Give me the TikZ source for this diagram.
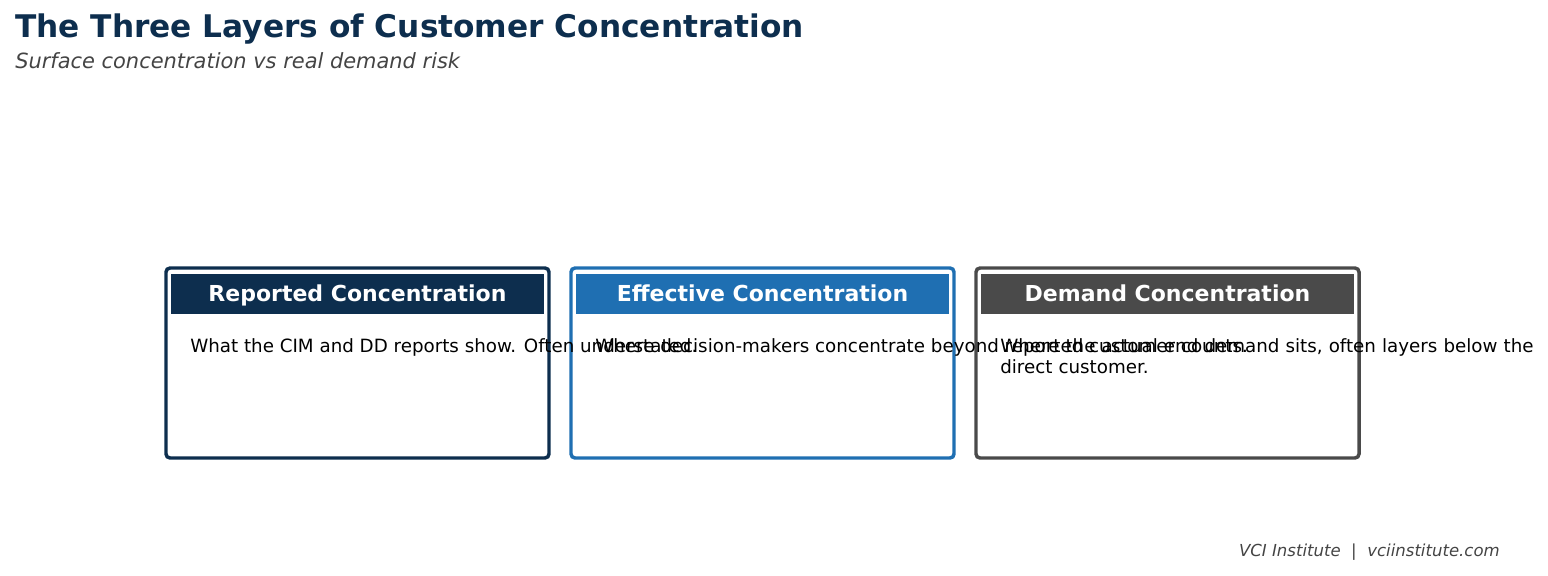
\documentclass[tikz,border=0pt]{standalone}
\usepackage{fontspec}
\setmainfont{DejaVu Sans}
\definecolor{navy}{HTML}{0D2E4E}
\definecolor{blu}{HTML}{1F6FB2}
\definecolor{gry}{HTML}{4A4A4A}
\definecolor{sub}{HTML}{444444}
\begin{document}
\begin{tikzpicture}[x=0.75pt,y=-0.75pt,
  box/.style={draw=#1,line width=2.6pt,rounded corners=3pt,fill=white},
  htxt/.style={anchor=base,inner sep=0pt,text=white,font=\fontsize{16.5}{19}\selectfont\bfseries},
  btxt/.style={anchor=north west,inner sep=0pt,font=\fontsize{13.7}{16}\selectfont,align=left}]
\useasboundingbox (0,0) rectangle (1548,575);
\node[anchor=west,inner sep=0pt,text=navy,font=\fontsize{23.4}{28}\selectfont\bfseries] (title) at (15,29) {The Three Layers of Customer Concentration};
\node[anchor=west,inner sep=0pt,text=sub,font=\fontsize{15.7}{18}\selectfont\itshape] (subtitle) at (15,61) {Surface concentration vs real demand risk};
\foreach \x/\c/\t [count=\i] in {166/navy/Reported Concentration,571/blu/Effective Concentration,976/gry/Demand Concentration}{
  \draw[box=\c] (\x,268) rectangle (\x+383,458);
  \fill[\c] (\x+5,274) rectangle (\x+378,314);
  \node[htxt] (h\i) at (\x+191.5,301) {\t};
}
\node[btxt] (b1) at (190,338) {What the CIM and DD reports show. Often understated.};
\node[btxt] (b2) at (595,338) {Where decision-makers concentrate beyond reported customer counts.};
\node[btxt,text width=600] (b3) at (1000,338) {Where the actual end demand sits, often layers below the\\direct customer.};
\node[anchor=east,inner sep=0pt,text=sub,font=\fontsize{12.4}{14}\selectfont\itshape] (foot) at (1500,552) {VCI Institute \ \textbar\ \ vciinstitute.com};
\end{tikzpicture}
\end{document}
